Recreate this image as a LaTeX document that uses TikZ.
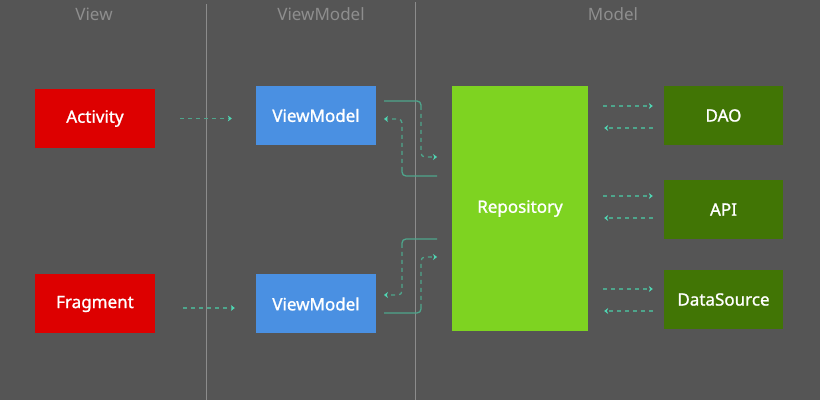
\documentclass[tikz,border=0pt]{standalone}
\usepackage{fontspec}
\setmainfont{Noto Sans}
\newfontfamily\boxfont{Noto Sans}[FakeBold=1.2]
\usetikzlibrary{positioning, arrows.meta, calc}
\definecolor{bggray}{RGB}{85,85,85}
\definecolor{divgray}{RGB}{140,140,140}
\definecolor{headgray}{RGB}{142,142,142}
\definecolor{viewred}{RGB}{221,0,0}
\definecolor{vmblue}{RGB}{74,144,226}
\definecolor{repogreen}{RGB}{126,211,33}
\definecolor{datagreen}{RGB}{65,117,5}
\definecolor{flowteal}{RGB}{78,165,140}
\definecolor{tipteal}{RGB}{80,215,180}

\tikzset{
  layerbox/.style={minimum width=120pt, minimum height=59pt, inner sep=0pt,
    text=white, font=\boxfont\fontsize{17}{20}\selectfont},
  header/.style={text=headgray, font=\fontsize{17}{20}\selectfont},
  flow/.style={flowteal, line width=1.3pt, dash pattern=on 4pt off 4pt,
    -{Stealth[length=4pt,width=6pt,color=tipteal]}},
  wire/.style={flowteal, line width=1.3pt, rounded corners=4pt},
}

\begin{document}
\begin{tikzpicture}[x=1pt, y=-1pt]
\fill[bggray] (0,0) rectangle (820,400);

% layer headers and dividers
\node[header] (hview) at (94,14) {View};
\node[header] (hvm) at (321,14) {ViewModel};
\node[header] (hmodel) at (613,14) {Model};
\draw[divgray, line width=0.8pt] (206,4) -- (206,400);
\draw[divgray, line width=0.8pt] (415,2) -- (415,400);

% View
\node[layerbox, fill=viewred] (act) at (95,118.5) {Activity};
\node[layerbox, fill=viewred] (frag) at (95,304) {Fragment};

% ViewModel
\node[layerbox, fill=vmblue] (vmtop) at (316,115.5) {ViewModel};
\node[layerbox, fill=vmblue] (vmbot) at (316,304) {ViewModel};

% Model
\node[layerbox, fill=repogreen, minimum width=136pt, minimum height=245pt] (repo) at (520,208.5) {Repository};
\node[layerbox, fill=datagreen, minimum width=119pt] (dao) at (723.5,115.5) {DAO};
\node[layerbox, fill=datagreen, minimum width=119pt] (api) at (723.5,209.5) {API};
\node[layerbox, fill=datagreen, minimum width=119pt] (src) at (723.5,299.5) {DataSource};

% view -> viewmodel
\draw[flow, shorten <=25pt, shorten >=24pt] (act.east) -- (act.east -| vmtop.west);
\draw[flow, shorten <=28pt, shorten >=21pt] (frag.east |- 0,308) -- (vmbot.west |- 0,308);

% viewmodel <-> repository
\coordinate (t1) at (384,101);
\coordinate (t2) at (421,106);
\coordinate (t3) at (437,157);
\coordinate (t4) at (437,176);
\coordinate (t5) at (402,171);
\coordinate (t6) at (384,119);
\draw[wire] (t1) -| (t2);
\draw[flow, rounded corners=4pt] (t2) |- (t3);
\draw[wire] (t4) -| (t5);
\draw[flow, rounded corners=4pt] (t5) |- (t6);

\coordinate (b1) at (437,239);
\coordinate (b2) at (402,244);
\coordinate (b3) at (384,295);
\coordinate (b4) at (384,313);
\coordinate (b5) at (421,308);
\coordinate (b6) at (437,257);
\draw[wire] (b1) -| (b2);
\draw[flow, rounded corners=4pt] (b2) |- (b3);
\draw[wire] (b4) -| (b5);
\draw[flow, rounded corners=4pt] (b5) |- (b6);

% repository <-> data sources
\foreach \src/\yo/\yi in {dao/106/128, api/196/218, src/289/311} {
  \draw[flow] (repo.east |- 0,\yo) ++(15,0) -- ($(\src.west |- 0,\yo)+(-11,0)$);
  \draw[flow] (\src.west |- 0,\yi) ++(-11,0) -- ($(repo.east |- 0,\yi)+(16,0)$);
}
\end{tikzpicture}
\end{document}
